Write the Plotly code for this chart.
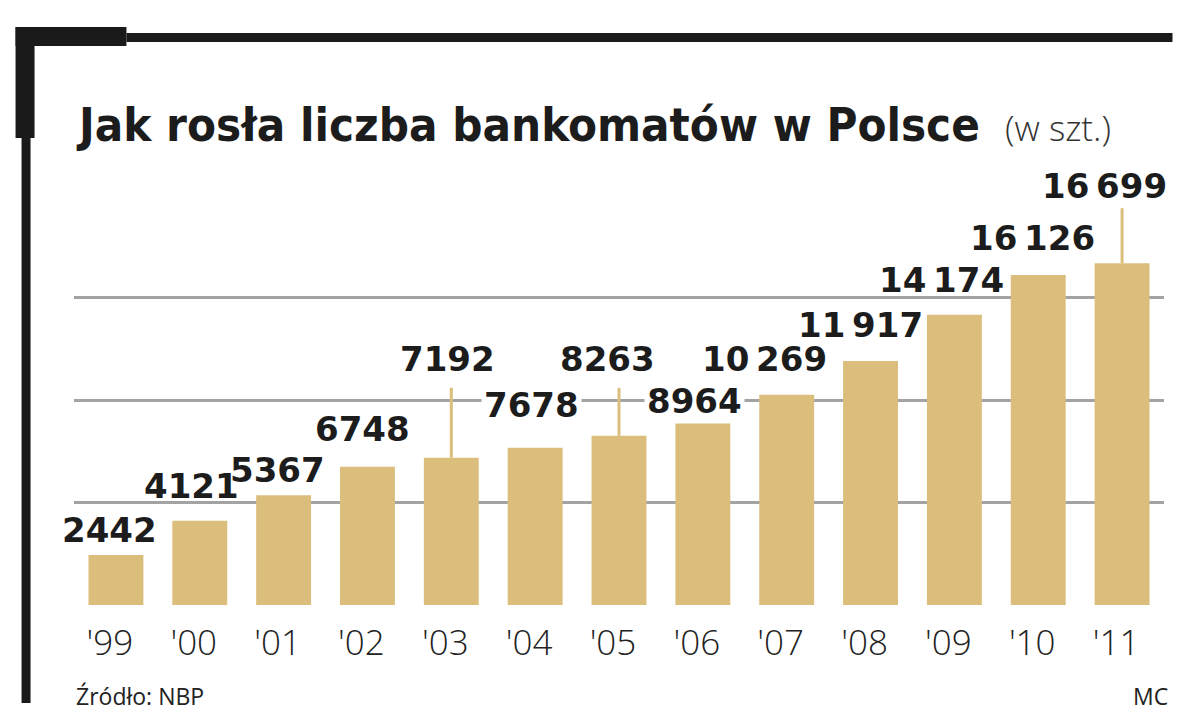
import plotly.graph_objects as go

# data
years = ["'99", "'00", "'01", "'02", "'03", "'04", "'05", "'06", "'07", "'08", "'09", "'10", "'11"]
atms = [2442, 4121, 5367, 6748, 7192, 7678, 8263, 8964, 10269, 11917, 14174, 16126, 16699]
grid_vals = [0, 5000, 10000, 15000]

# where each value label sits relative to its bar top (pixels)
label_dx = [-6, -8, -6, -5, -4, -4, -12, -8, -22, -10, -13, -6, -18]
label_dy = [25, 35, 25, 38, 99, 43, 77, 21, 36, 36, 35, 37, 77]
# labels that sit on a gridline and cut it
knockout = {"'04", "'06"}
# value labels that hang on a thin line down to the bar
leaders = {"'03": 70, "'05": 48, "'11": 55}

# the page body adds an 8px margin, so the figure is drawn 8px smaller
OFF = 8
W, H = 1200 - OFF, 727 - OFF
ML, MR, MT, MB = 73.5 - OFF, 1200 - 1164.5, 150 - OFF, 727 - 605
PX_PER_UNIT = 102.35 / 5000

BAR = "#dcbe7c"
INK = "#1c1c1c"


def px(x):
    # reference pixel -> paper x
    return (x - OFF - ML) / (W - ML - MR)


def py(y):
    # reference pixel -> paper y
    return (H - MB - (y - OFF)) / (H - MT - MB)


def fmt(v):
    s = str(v)
    if v >= 10000:
        s = s[:-3] + "\u2009" + s[-3:]
    return s


fig = go.Figure(go.Bar(
    x=years, y=atms,
    marker_color=BAR,
    marker_line_width=0,
    hoverinfo="skip",
))

# value labels
for yr, v, dx, dy in zip(years, atms, label_dx, label_dy):
    fig.add_annotation(
        x=yr, y=v, text=fmt(v), showarrow=False,
        xanchor="center", yanchor="middle",
        xshift=dx, yshift=dy,
        bgcolor="white" if yr in knockout else "rgba(0,0,0,0)", borderpad=2,
        font=dict(family="DejaVu Sans", size=34, color=INK, weight="bold"),
    )

# leader lines
for yr, length in leaders.items():
    v = atms[years.index(yr)]
    fig.add_shape(
        type="line", xref="x", yref="y",
        x0=yr, x1=yr,
        ysizemode="pixel", yanchor=v, y0=0, y1=length,
        line=dict(color=BAR, width=3),
    )

# black frame top-left
frame = [
    (15, 27, 126, 46),     # thick top corner piece
    (126, 33, 1173, 42),   # thin top rule
    (15, 27, 34, 138),     # thick left piece
    (21, 138, 30, 703),    # thin left rule
]
for x0, y0, x1, y1 in frame:
    fig.add_shape(
        type="rect", xref="paper", yref="paper",
        x0=px(x0), x1=px(x1), y0=py(y1), y1=py(y0),
        fillcolor="#1a1a1a", line_width=0, layer="above",
    )

# title
fig.add_annotation(
    xref="paper", yref="paper", x=px(73), y=py(124),
    xanchor="left", yanchor="middle", showarrow=False,
    text="Jak rosła liczba bankomatów w Polsce",
    font=dict(family="DejaVu Sans Condensed, DejaVu Sans", size=47, color=INK, weight="bold"),
)
fig.add_annotation(
    xref="paper", yref="paper", x=px(1003), y=py(128),
    xanchor="left", yanchor="middle", showarrow=False,
    text="(w szt.)",
    font=dict(family="Open Sans", size=35, color="#333333", weight=300),
)

# footer
fig.add_annotation(
    xref="paper", yref="paper", x=px(74), y=py(696),
    xanchor="left", yanchor="middle", showarrow=False,
    text="Źródło: NBP",
    font=dict(family="Open Sans", size=23, color="#222222"),
)
fig.add_annotation(
    xref="paper", yref="paper", x=px(1171), y=py(696),
    xanchor="right", yanchor="middle", showarrow=False,
    text="MC",
    font=dict(family="Open Sans", size=23, color="#222222"),
)

fig.update_layout(
    width=W, height=H,
    margin=dict(l=ML, r=MR, t=MT, b=MB, autoexpand=False),
    paper_bgcolor="white", plot_bgcolor="white",
    bargap=0.345, showlegend=False,
)
fig.update_xaxes(
    range=[-0.5, len(years) - 0.5],
    showgrid=False, zeroline=False, showline=False, ticks="",
    tickfont=dict(family="Open Sans", size=35, color="#222222", weight=300),
    ticklabelshift=-6, ticklabelstandoff=14,
)
fig.update_yaxes(
    range=[0, (H - MT - MB) / PX_PER_UNIT],
    tickvals=grid_vals, showticklabels=False,
    showgrid=True, gridcolor="#a3a3a3", gridwidth=2.5,
    zeroline=False, showline=False, ticks="",
)

fig.write_html("out.html")
